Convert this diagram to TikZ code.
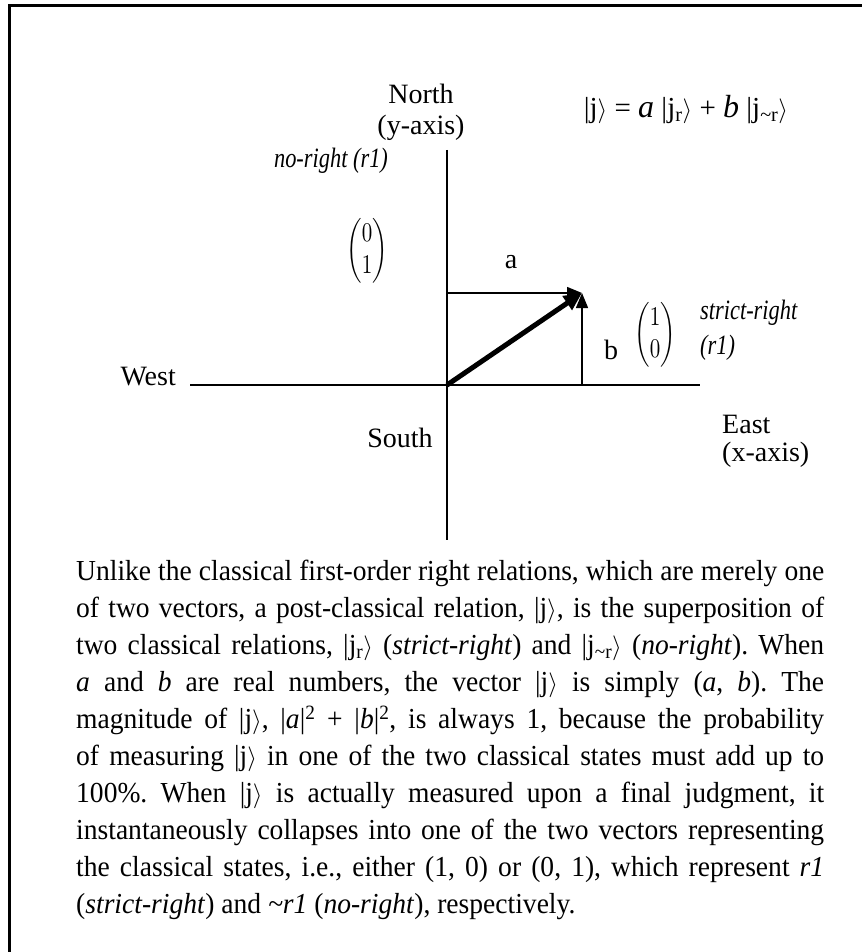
\documentclass[tikz,border=0pt]{standalone}
\usepackage{fontspec}
\setmainfont{Liberation Serif}
\newfontfamily\bodyfont[FakeStretch=0.95]{Liberation Serif}
\newfontfamily\slimfont[FakeStretch=0.8]{Liberation Serif}
\usepackage{amsmath}
\usetikzlibrary{arrows.meta}
\newcommand{\ket}[1]{|#1$\rangle$}
\newcommand{\colvec}[2]{\scalebox{2.1}[2.7]{$\begin{pmatrix}#1\\#2\end{pmatrix}$}}
\begin{document}
\begin{tikzpicture}[x=1pt,y=-1pt,
  axis/.style={line width=1.4pt},
  comp/.style={line width=1.4pt, -{Triangle[length=15pt,width=12pt]}},
  lab/.style={font=\fontsize{28}{32}\selectfont, inner sep=0pt},
  slim/.style={font=\slimfont\fontsize{28}{32}\selectfont\itshape, inner sep=0pt}]
\useasboundingbox (0,0) rectangle (862,952);
\draw[line width=3pt] (9.5,952) -- (9.5,5.5) -- (862,5.5);
% axes and vectors
\coordinate (o) at (447,385);
\coordinate (w) at (190,385);
\coordinate (e) at (700,385);
\coordinate (n) at (447,150);
\coordinate (s) at (447,540);
\coordinate (j) at (582,293);
\coordinate (ja) at (447,293);
\coordinate (jb) at (582,385);
\draw[axis] (w) -- (e);
\draw[axis] (n) -- (s);
\draw[comp] (ja) -- (j);
\draw[comp] (jb) -- (j);
\draw[line width=5pt, -{Triangle[length=18pt,width=16pt]}] (o) -- (j);
% labels
\node[lab] (north) at (421,94) {North};
\node[lab] (yaxis) at (421,128) {(y-axis)};
\node[lab, font=\fontsize{29}{32}\selectfont] (eq) at (686,110) {\ket{j} = {\fontsize{32}{32}\selectfont\textit{a}} \ket{j\textsubscript{r}} + {\fontsize{32}{32}\selectfont\textit{b}} \ket{j\textsubscript{\textasciitilde r}}};
\node[slim] (noright) at (331,161) {no-right (r1)};
\node (m01) at (367,251) {\colvec{0}{1}};
\node[lab] (alab) at (511,262) {a};
\node[lab] (blab) at (611,350) {b};
\node (m10) at (655,335) {\colvec{1}{0}};
\node[slim, anchor=west] (strict) at (700,313) {strict-right};
\node[slim, anchor=west] (r1) at (700,348) {(r1)};
\node[lab, anchor=east] (west) at (176,377) {West};
\node[lab] (south) at (400,438) {South};
\node[lab, anchor=west] (east) at (722,424) {East};
\node[lab, anchor=west] (xaxis) at (722,455) {(x-axis)};
% caption text
\node[anchor=north west, text width=748pt, align=justify, inner sep=0pt,
  font=\bodyfont\fontsize{29}{37}\selectfont\frenchspacing] (body) at (76,560) {%
Unlike the classical first-order right relations, which are merely one\linebreak
of two vectors, a post-classical relation, \ket{j}, is the superposition of\linebreak
two classical relations, \ket{j\textsubscript{r}} (\textit{strict-right}) and \ket{j\textsubscript{\textasciitilde r}} (\textit{no-right}). When\linebreak
\textit{a} and \textit{b} are real numbers, the vector \ket{j} is simply (\textit{a}, \textit{b}). The\linebreak
magnitude of \ket{j}, |\textit{a}|\textsuperscript{2} + |\textit{b}|\textsuperscript{2}, is always 1, because the probability\linebreak
of measuring \ket{j} in one of the two classical states must add up to\linebreak
100\%. When \ket{j} is actually measured upon a final judgment, it\linebreak
instantaneously collapses into one of the two vectors representing\linebreak
the classical states, i.e., either (1, 0) or (0, 1), which represent \textit{r1}\linebreak
(\textit{strict-right}) and \textit{\textasciitilde r1} (\textit{no-right}), respectively.};
\end{tikzpicture}
\end{document}
